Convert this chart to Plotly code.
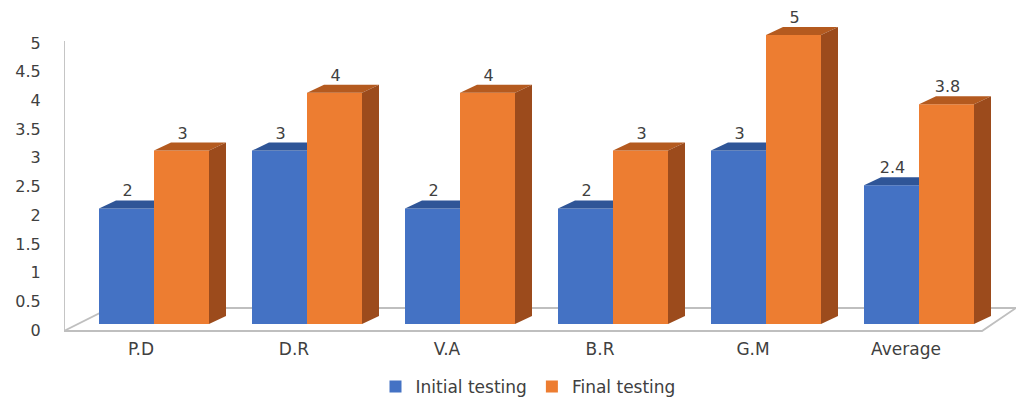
import plotly.graph_objects as go

# Scores per student, before and after
categories = ["P.D", "D.R", "V.A", "B.R", "G.M", "Average"]
initial = [2, 3, 2, 2, 3, 2.4]
final = [3, 4, 4, 3, 5, 3.8]
series_names = ["Initial testing", "Final testing"]
tick_values = [0, 0.5, 1, 1.5, 2, 2.5, 3, 3.5, 4, 4.5, 5]
tick_labels = ["0", "0.5", "1", "1.5", "2", "2.5", "3", "3.5", "4", "4.5", "5"]

# colours: front, top, side
BLUE = ("#4472C4", "#2F5597", "#2A4C86")
ORANGE = ("#ED7D31", "#B45A1F", "#9C4B1C")
TEXT = "#404040"
FLOOR = "#BFBFBF"

W, H = 1016, 399
ML, MR, MT, MB = 64, 0, 0, 59
PW, PH = W - ML - MR, H - MT - MB

# pixel scales of the plot area
PX_PER_X = 153.0          # one category step
PX_PER_Y = 57.8           # one score unit on the bar axis
X0 = -(154 - ML) / PX_PER_X
X1 = X0 + PW / PX_PER_X
Y0 = -(PH - 324) / PX_PER_Y
Y1 = Y0 + PH / PX_PER_Y

# tick axis sits on the back wall, slightly lower and tighter
TICK_PX = 57.4
T0 = -(PH - 330) / TICK_PX
T1 = T0 + PH / TICK_PX

BAR_W = 55 / PX_PER_X
DX = 17 / PX_PER_X        # depth offset, x
DY = 8 / PX_PER_Y         # depth offset, y


def xpx(p):
    return X0 + (p - ML) / PX_PER_X


def ypx(p):
    return Y0 + (PH - p) / PX_PER_Y


def poly(pts):
    return "M " + " L ".join(f"{a},{b}" for a, b in pts) + " Z"


fig = go.Figure()
shapes = []

# floor slab
fl = [(xpx(64), ypx(331)), (xpx(982), ypx(331)), (xpx(1016), ypx(308)), (xpx(110), ypx(308))]
shapes.append(dict(type="path", layer="below", xref="x", yref="y", path=poly(fl),
                   fillcolor="white", line=dict(color=FLOOR, width=1.8)))
# vertical axis line on the wall
shapes.append(dict(type="line", layer="below", xref="x", yref="y",
                   x0=xpx(64), x1=xpx(64), y0=ypx(331), y1=ypx(41),
                   line=dict(color=FLOOR, width=1.8)))

for name, vals, cols, off in [(series_names[0], initial, BLUE, -BAR_W),
                              (series_names[1], final, ORANGE, 0.0)]:
    xs = list(range(len(categories)))
    fig.add_trace(go.Bar(
        x=xs, y=vals, name=name, width=BAR_W, offset=off,
        marker=dict(color=cols[0], line=dict(width=0)),
        hoverinfo="skip",
    ))
    for i, v in enumerate(vals):
        l = i + off
        r = l + BAR_W
        if off < 0:
            # top face; the part beyond the right edge sits behind the taller neighbour
            top = [(l, v), (r, v), (r, v + DY), (l + DX, v + DY)]
            shapes.append(dict(type="path", xref="x", yref="y", layer="above",
                               path=poly(top), fillcolor=cols[1], line=dict(width=0)))
        else:
            top = [(l, v), (r, v), (r + DX, v + DY), (l + DX, v + DY)]
            side = [(r, 0), (r, v), (r + DX, v + DY), (r + DX, DY)]
            shapes.append(dict(type="path", xref="x", yref="y", layer="above",
                               path=poly(top), fillcolor=cols[1], line=dict(width=0)))
            shapes.append(dict(type="path", xref="x", yref="y", layer="above",
                               path=poly(side), fillcolor=cols[2], line=dict(width=0)))
    # value labels above each bar
    fig.add_trace(go.Scatter(
        x=[i + off + BAR_W / 2 + 1 / PX_PER_X for i in xs],
        y=[v + DY for v in vals],
        mode="text", text=[f"{v:g}" for v in vals], textposition="top center",
        textfont=dict(family="DejaVu Sans", size=16, color=TEXT),
        showlegend=False, hoverinfo="skip",
    ))

# invisible carrier for the tick axis
fig.add_trace(go.Scatter(x=[X0], y=[0], yaxis="y2", mode="markers",
                         marker=dict(opacity=0), showlegend=False, hoverinfo="skip"))

fig.update_layout(
    width=W, height=H,
    margin=dict(l=ML, r=MR, t=MT, b=MB, autoexpand=False),
    paper_bgcolor="white", plot_bgcolor="white",
    barmode="overlay",
    shapes=shapes,
    showlegend=True,
    legend=dict(orientation="h", x=(528 - ML) / PW, xanchor="center",
                y=(PH - 387) / PH, yanchor="middle",
                font=dict(family="DejaVu Sans", size=17, color=TEXT),
                itemwidth=30, tracegroupgap=0, bgcolor="rgba(0,0,0,0)"),
    xaxis=dict(range=[X0, X1], showgrid=False, zeroline=False, showline=False,
               automargin=False, tickmode="array",
               tickvals=[i - 13 / PX_PER_X for i in range(len(categories))],
               ticktext=categories, ticks="", ticklabelstandoff=-3,
               tickfont=dict(family="DejaVu Sans", size=17, color=TEXT)),
    yaxis=dict(range=[Y0, Y1], showgrid=False, zeroline=False, showline=False,
               automargin=False, showticklabels=False, ticks=""),
    yaxis2=dict(range=[T0, T1], overlaying="y", side="left", anchor="x",
                showgrid=False, zeroline=False, showline=False, automargin=False,
                tickmode="array", tickvals=tick_values, ticktext=tick_labels,
                ticks="outside", ticklen=19, tickcolor="rgba(0,0,0,0)",
                tickfont=dict(family="DejaVu Sans", size=16, color=TEXT)),
)

fig.write_html("out.html")
